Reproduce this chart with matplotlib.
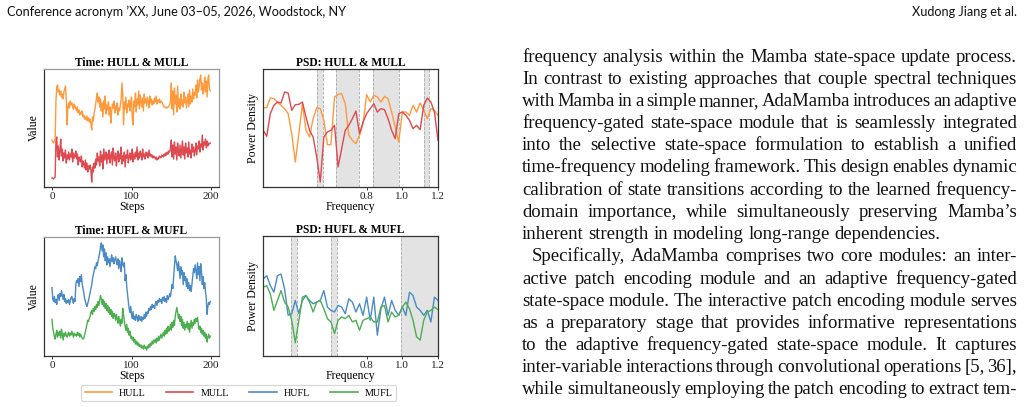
import numpy as np
import matplotlib
matplotlib.use("Agg")
import matplotlib.pyplot as plt

# ---------------- data ----------------
steps = np.arange(200)

hull = [47, 45, 44, 46, 48, 85, 100, 102, 95, 97,
        92, 96, 90, 93, 88, 95, 98, 101, 88, 62,
        80, 84, 79, 86, 82, 84, 80, 78, 83, 81,
        78, 76, 80, 74, 77, 72, 75, 73, 76, 70,
        72, 68, 70, 67, 71, 66, 69, 65, 68, 63,
        57, 70, 66, 74, 78, 83, 89, 94, 85, 90,
        80, 88, 76, 84, 70, 86, 78, 91, 73, 82,
        77, 85, 72, 80, 64, 75, 83, 79, 86, 74,
        81, 77, 84, 72, 79, 76, 82, 88, 104, 92,
        62, 85, 78, 90, 74, 83, 80, 87, 76, 84,
        90, 68, 62, 86, 80, 94, 75, 88, 82, 96,
        78, 92, 85, 80, 89, 76, 93, 84, 88, 81,
        90, 86, 79, 91, 84, 88, 82, 86, 83, 89,
        85, 91, 83, 87, 85, 88, 84, 86, 85, 84,
        81, 80, 80, 79, 80, 79, 80, 81, 82, 85,
        104, 78, 96, 72, 99, 83, 92, 75, 101, 80,
        88, 78, 93, 82, 87, 80, 95, 84, 90, 79,
        86, 93, 80, 97, 83, 91, 85, 98, 88, 94,
        92, 102, 89, 107, 95, 100, 108, 112, 97, 104,
        93, 99, 110, 95, 106, 90, 108, 112, 98, 96]

mull = [9, 9, 8, 9, 10, 45, 50, 30, 41, 27,
        36, 48, 31, 38, 26, 34, 29, 37, 24, 32,
        28, 35, 27, 33, 30, 38, 25, 34, 29, 31,
        36, 28, 33, 22, 30, 27, 25, 31, 20, 26,
        23, 19, 27, 17, 24, 15, 21, 18, 22, 16,
        5, 20, 15, 24, 19, 28, 22, 34, 26, 30,
        21, 36, 25, 32, 18, 38, 27, 30, 35, 23,
        33, 28, 37, 24, 31, 35, 22, 39, 29, 26,
        34, 21, 30, 36, 25, 33, 28, 40, 23, 31,
        26, 35, 20, 32, 29, 37, 24, 30, 34, 27,
        31, 38, 25, 33, 28, 35, 30, 40, 27, 34,
        29, 36, 32, 27, 38, 30, 33, 28, 35, 31,
        34, 29, 37, 31, 33, 30, 32, 29, 31, 30,
        28, 30, 27, 29, 28, 31, 30, 29, 32, 31,
        30, 33, 31, 34, 32, 35, 33, 36, 35, 38,
        47, 30, 42, 28, 45, 33, 40, 27, 44, 35,
        31, 42, 29, 38, 46, 32, 40, 28, 44, 34,
        39, 30, 45, 33, 37, 29, 43, 35, 40, 31,
        36, 44, 32, 41, 38, 46, 35, 43, 40, 52,
        37, 45, 42, 48, 39, 46, 41, 44, 43, 44]

hufl = [69, 58, 55, 60, 54, 57, 52, 59, 62, 56,
        63, 60, 66, 61, 57, 62, 55, 58, 53, 56,
        54, 57, 52, 55, 59, 60, 56, 53, 58, 55,
        72, 76, 74, 78, 70, 80, 75, 82, 73, 68,
        64, 58, 55, 52, 50, 53, 56, 60, 64, 68,
        72, 78, 82, 86, 90, 88, 94, 91, 96, 100,
        104, 110, 114, 106, 112, 100, 108, 96, 104, 92,
        100, 94, 98, 90, 97, 102, 95, 99, 93, 97,
        100, 95, 92, 98, 88, 96, 91, 85, 99, 93,
        90, 94, 76, 82, 70, 62, 55, 48, 44, 50,
        42, 38, 45, 37, 40, 36, 42, 39, 35, 41,
        38, 36, 40, 35, 39, 37, 42, 38, 44, 40,
        45, 43, 48, 46, 50, 47, 52, 49, 51, 48,
        53, 55, 51, 56, 54, 58, 55, 57, 53, 59,
        56, 60, 55, 58, 54, 61, 57, 59, 63, 60,
        66, 72, 68, 80, 90, 101, 96, 92, 86, 95,
        88, 78, 90, 82, 86, 72, 84, 76, 80, 70,
        78, 68, 74, 66, 71, 65, 73, 80, 88, 84,
        92, 86, 78, 94, 82, 90, 76, 93, 85, 72,
        80, 68, 74, 65, 58, 42, 50, 54, 52, 55]

mufl = [37, 28, 24, 20, 17, 22, 26, 19, 24, 21,
        25, 18, 27, 22, 16, 23, 20, 24, 21, 19,
        22, 24, 20, 23, 21, 25, 22, 19, 23, 21,
        22, 20, 24, 21, 23, 19, 22, 20, 18, 17,
        18, 21, 24, 28, 32, 36, 35, 38, 40, 44,
        46, 42, 48, 45, 50, 47, 52, 49, 55, 51,
        56, 61, 58, 52, 57, 50, 55, 48, 53, 46,
        51, 44, 49, 42, 47, 40, 45, 38, 43, 41,
        36, 42, 38, 33, 40, 35, 30, 37, 33, 48,
        42, 35, 30, 26, 32, 24, 28, 21, 25, 18,
        20, 16, 19, 14, 17, 12, 15, 11, 14, 10,
        12, 9, 11, 8, 10, 7, 11, 8, 9, 6,
        10, 8, 12, 9, 13, 11, 15, 12, 16, 14,
        17, 13, 18, 15, 20, 16, 19, 22, 18, 21,
        24, 20, 26, 22, 28, 23, 30, 25, 27, 32,
        26, 34, 29, 36, 31, 40, 45, 49, 44, 38,
        42, 35, 40, 31, 37, 28, 34, 26, 32, 29,
        35, 27, 33, 24, 30, 36, 28, 34, 31, 37,
        33, 38, 35, 39, 32, 27, 30, 24, 28, 22,
        26, 20, 24, 18, 22, 14, 19, 22, 18, 20]

freqs = np.round(np.arange(0.22, 1.2001, 0.02), 2)

# PSD values (screen-read, arbitrary units)
psd_hull_px = [172, 172, 143, 145, 155, 165, 175, 190, 250, 335, 250, 160, 240, 260, 205, 172, 175, 210, 283, 283,
               140, 132, 130, 160, 255, 270, 280, 255, 220, 133, 155, 135, 140, 155, 138, 145, 185, 230, 275, 185,
               185, 195, 165, 185, 158, 180, 205, 175, 180, 195]
psd_mull_px = [240, 258, 190, 165, 155, 158, 125, 128, 180, 163, 162, 155, 200, 240, 260, 320, 395, 260, 245, 240,
               225, 350, 295, 240, 225, 205, 182, 250, 215, 190, 175, 160, 185, 175, 178, 205, 240, 265, 190, 185,
               195, 210, 235, 225, 238, 165, 143, 155, 185, 270]
psd_hufl_px = [175, 165, 195, 215, 165, 160, 205, 285, 280, 240, 280, 240, 225, 240, 250, 245, 240, 210, 260, 270,
               275, 255, 260, 280, 235, 245, 275, 250, 285, 230, 300, 230, 345, 265, 230, 285, 240, 270, 285, 260,
               285, 215, 225, 260, 270, 285, 270, 305, 230, 240]
psd_mufl_px = [200, 195, 220, 270, 240, 210, 245, 260, 300, 368, 300, 230, 225, 245, 275, 245, 240, 265, 295, 305,
               340, 300, 290, 295, 285, 305, 300, 330, 300, 295, 290, 305, 305, 260, 255, 305, 275, 290, 285, 260,
               245, 265, 300, 350, 360, 300, 275, 270, 260, 268]
psd_hull = (410 - np.array(psd_hull_px)) / 3
psd_mull = (410 - np.array(psd_mull_px)) / 3
psd_hufl = (408 - np.array(psd_hufl_px)) / 3
psd_mufl = (408 - np.array(psd_mufl_px)) / 3

bands_top = [(0.522, 0.556), (0.627, 0.755), (0.837, 0.982), (1.120, 1.152)]
bands_bot = [(0.377, 0.409), (0.601, 0.632), (0.992, 1.2)]

series_names = ["HULL", "MULL", "HUFL", "MUFL"]
colors = {"HULL": "#FF9A3C", "MULL": "#DE4A4F", "HUFL": "#4A8BC6", "MUFL": "#4CAF4F"}

freq_ticks = [0.8, 1.0, 1.2]
step_ticks = [0, 100, 200]

header_left = "Conference acronym \u2019XX, June 03\u201305, 2026, Woodstock, NY"
header_right = "Xudong Jiang et al."
para_lines = [
    "frequency analysis within the Mamba state-space update process.",
    "In contrast to existing approaches that couple spectral techniques",
    "with Mamba in a simple manner, AdaMamba introduces an adaptive",
    "frequency-gated state-space module that is seamlessly integrated",
    "into the selective state-space formulation to establish a unified",
    "time-frequency modeling framework. This design enables dynamic",
    "calibration of state transitions according to the learned frequency-",
    "domain importance, while simultaneously preserving Mamba\u2019s",
    "inherent strength in modeling long-range dependencies.",
    "Specifically, AdaMamba comprises two core modules: an inter-",
    "active patch encoding module and an adaptive frequency-gated",
    "state-space module. The interactive patch encoding module serves",
    "as a preparatory stage that provides informative representations",
    "to the adaptive frequency-gated state-space module. It captures",
    "inter-variable interactions through convolutional operations [5, 36],",
    "while simultaneously employing the patch encoding to extract tem-",
]
last_lines = {8}
indent_lines = {9}

# ---------------- figure ----------------
W, H = 1024, 407
fig = plt.figure(figsize=(W / 100, H / 100), dpi=100)
fig.patch.set_facecolor("white")
SERIF = ["Liberation Serif", "DejaVu Serif"]


def ax_px(x0, y0, x1, y1):
    return fig.add_axes([x0 / W, 1 - y1 / H, (x1 - x0) / W, (y1 - y0) / H])


def style(ax, light_tr=False):
    for s in ax.spines.values():
        s.set_linewidth(0.9)
        s.set_color("#333333")
    if light_tr:
        ax.spines["top"].set_color("#999999")
        ax.spines["right"].set_color("#999999")
    ax.set_yticks([])
    ax.tick_params(axis="x", length=2, width=0.6, pad=1.5, labelsize=8, colors="#222222")
    for lab in ax.get_xticklabels():
        lab.set_fontfamily(SERIF)


def time_ax(ax, a, b, na, nb, title, ylim):
    ax.plot(steps, a, color=colors[na], lw=1.0)
    ax.plot(steps, b, color=colors[nb], lw=1.0)
    ax.set_xlim(-10, 210)
    ax.set_ylim(*ylim)
    ax.set_xticks(step_ticks)
    style(ax, True)
    ax.set_title(title, fontsize=8.3, fontweight="bold", family=SERIF, pad=2.5)
    ax.set_xlabel("Steps", fontsize=8.5, family=SERIF, labelpad=0)
    ax.set_ylabel("Value", fontsize=8.5, family=SERIF, labelpad=3)


def psd_ax(ax, a, b, na, nb, title, bands, ylim):
    for lo, hi in bands:
        ax.axvspan(lo, hi, color="#e3e3e3", lw=0, zorder=0)
        for e in (lo, hi):
            if e < 1.199:
                ax.axvline(e, color="#aaaaaa", ls="--", lw=0.6, zorder=0.5)
    ax.plot(freqs, a, color=colors[na], lw=1.0)
    ax.plot(freqs, b, color=colors[nb], lw=1.0)
    ax.set_xlim(0.219, 1.2)
    ax.set_ylim(*ylim)
    ax.set_xticks(freq_ticks)
    ax.set_xticklabels([f"{t:.1f}" for t in freq_ticks])
    style(ax)
    ax.set_title(title, fontsize=8.3, fontweight="bold", family=SERIF, pad=2.5)
    ax.set_xlabel("Frequency", fontsize=8.5, family=SERIF, labelpad=0)
    ax.set_ylabel("Power Density", fontsize=8.5, family=SERIF, labelpad=3)


a1 = ax_px(44, 69, 219, 187)
time_ax(a1, hull, mull, "HULL", "MULL", "Time: HULL & MULL", (0, 118))
a2 = ax_px(263, 69, 438, 187)
psd_ax(a2, psd_hull, psd_mull, "HULL", "MULL", "PSD: HULL & MULL", bands_top, (0, 118))
a3 = ax_px(44, 237, 219, 356)
time_ax(a3, hufl, mufl, "HUFL", "MUFL", "Time: HUFL & MUFL", (0, 120))
a4 = ax_px(263, 236, 438, 356)
psd_ax(a4, psd_hufl, psd_mufl, "HUFL", "MUFL", "PSD: HUFL & MUFL", bands_bot, (0, 121))

from matplotlib.lines import Line2D
handles = [Line2D([], [], color=colors[n], lw=1.2) for n in series_names]
leg = fig.legend(handles, series_names, ncol=4, loc="center",
                 bbox_to_anchor=(238.5 / W, 1 - 393 / H),
                 prop={"family": SERIF, "size": 7.3},
                 frameon=True, fancybox=True, edgecolor="#cccccc",
                 handlelength=2.7, handletextpad=0.7, columnspacing=2.0,
                 borderpad=0.35)
leg.get_frame().set_linewidth(0.8)

# ---------------- page text ----------------
renderer = fig.canvas.get_renderer()


def width_of(s, fs, family, weight="normal"):
    t = fig.text(0, 0, s, fontsize=fs, family=family, weight=weight)
    w = t.get_window_extent(renderer).width
    t.remove()
    return w


SANS = ["Lato", "DejaVu Sans"]
hfs = 9.0 * 340 / width_of(header_left, 9.0, SANS)
fig.text(7 / W, 1 - 16 / H, header_left, fontsize=hfs, family=SANS, va="baseline", ha="left", color="#111111")
fig.text(1017 / W, 1 - 16 / H, header_right, fontsize=hfs, family=SANS, va="baseline", ha="right", color="#111111")

bfs = 10.0 * 488 / width_of(para_lines[1], 10.0, SERIF)
x_left, x_right = 522, 1017
space_w = width_of("a b", bfs, SERIF) - width_of("ab", bfs, SERIF)
for i, line in enumerate(para_lines):
    yb = 61.5 + 22.2 * i
    x0 = x_left + (10 if i in indent_lines else 0)
    words = line.split(" ")
    ws = [width_of(w, bfs, SERIF) for w in words]
    if i in last_lines:
        gap = space_w
    else:
        gap = (x_right - x0 - sum(ws)) / (len(words) - 1)
    x = x0
    for w, ww in zip(words, ws):
        fig.text(x / W, 1 - yb / H, w, fontsize=bfs, family=SERIF, va="baseline", ha="left", color="#111111")
        x += ww + gap

fig.savefig("out.png", dpi=100, facecolor="white")
